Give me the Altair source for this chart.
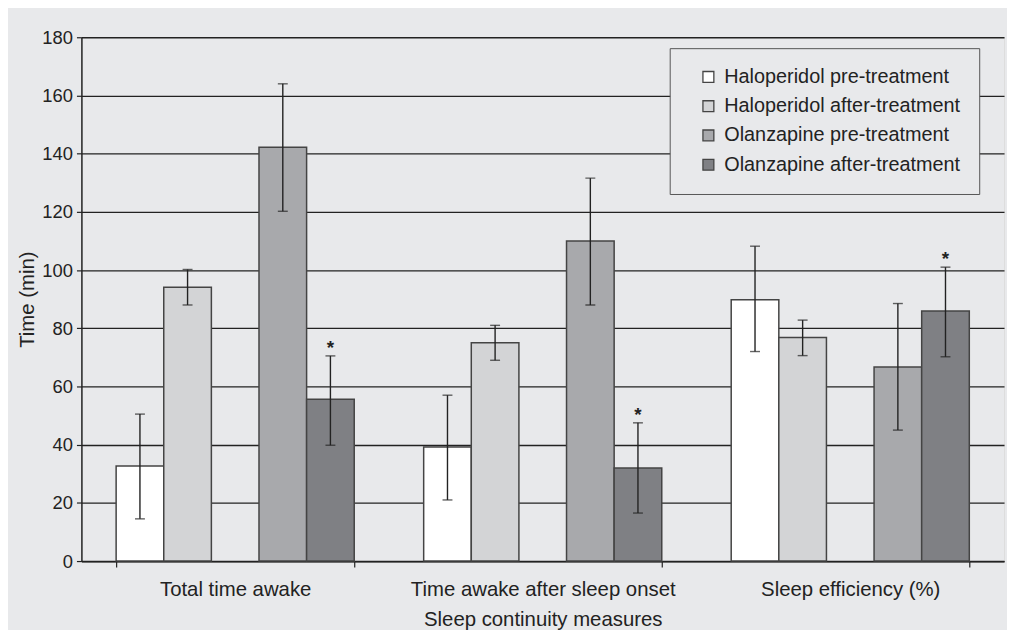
import altair as alt
import pandas as pd

measures = ["Total time awake", "Time awake after sleep onset", "Sleep efficiency (%)"]
groups = ["Haloperidol pre-treatment", "Haloperidol after-treatment",
          "Olanzapine pre-treatment", "Olanzapine after-treatment"]
colors = ["#ffffff", "#d3d4d6", "#a8a9ac", "#7f8084"]

hal_pre_mean = [32.7, 39.2, 89.8]
hal_pre_lo = [14.5, 21.0, 72.0]
hal_pre_hi = [50.5, 57.0, 108.2]

hal_post_mean = [94.1, 75.0, 76.8]
hal_post_lo = [88.0, 69.0, 70.6]
hal_post_hi = [100.2, 81.0, 82.8]

ola_pre_mean = [142.2, 110.0, 66.7]
ola_pre_lo = [120.2, 88.0, 45.0]
ola_pre_hi = [164.0, 131.6, 88.5]

ola_post_mean = [55.6, 32.0, 85.9]
ola_post_lo = [39.8, 16.5, 70.2]
ola_post_hi = [70.5, 47.5, 101.0]

ola_post_sig = ["*", "*", "*"]

rows = []
series = [
    (groups[0], hal_pre_mean, hal_pre_lo, hal_pre_hi, ["", "", ""]),
    (groups[1], hal_post_mean, hal_post_lo, hal_post_hi, ["", "", ""]),
    (groups[2], ola_pre_mean, ola_pre_lo, ola_pre_hi, ["", "", ""]),
    (groups[3], ola_post_mean, ola_post_lo, ola_post_hi, ola_post_sig),
]
for g, mean, lo, hi, sig in series:
    for i, m in enumerate(measures):
        rows.append({"measure": m, "group": g, "mean": mean[i],
                     "lo": lo[i], "hi": hi[i], "sig": sig[i]})
df = pd.DataFrame(rows)

offset_domain = [groups[0], groups[1], " ", groups[2], groups[3]]

FONT = "Liberation Sans"

x = alt.X("measure:N", sort=measures,
          scale=alt.Scale(paddingInner=0.2258, paddingOuter=0.1129),
          axis=alt.Axis(title="Sleep continuity measures", labelAngle=0,
                        tickBand="extent", tickSize=6, labelPadding=13,
                        titlePadding=9, labelFontSize=20.5, titleFontSize=20.5,
                        labelLimit=400,
                        labelColor="#222", titleColor="#222",
                        titleFontWeight="normal", domainColor="#222",
                        tickColor="#222", domainWidth=1.8, tickWidth=1.2))
xo = alt.XOffset("group:N", scale=alt.Scale(domain=offset_domain,
                                            paddingInner=0, paddingOuter=0))
yscale = alt.Scale(domain=[0, 180], nice=False)

bars = alt.Chart(df).mark_bar(stroke="#444444", strokeWidth=1.5).encode(
    x=x,
    xOffset=xo,
    y=alt.Y("mean:Q", scale=yscale,
            axis=alt.Axis(title="Time (min)", values=list(range(0, 181, 20)),
                          tickSize=5, labelPadding=4, titlePadding=4,
                          labelFontSize=18.5, titleFontSize=20.5,
                          labelColor="#222", titleColor="#222",
                          titleFontWeight="normal",
                          grid=True, gridColor="#222", gridWidth=1.3,
                          domainColor="#222", tickColor="#222",
                          domainWidth=1.5, tickWidth=1.2)),
    color=alt.Color("group:N", sort=groups,
                    scale=alt.Scale(domain=groups, range=colors),
                    legend=alt.Legend(title=None, orient="none",
                                      legendX=593, legendY=11,
                                      symbolType="square", symbolSize=121,
                                      symbolStrokeColor="#444",
                                      symbolStrokeWidth=1.3,
                                      symbolOffset=10,
                                      labelFontSize=20, labelColor="#222",
                                      labelOffset=6, labelLimit=400,
                                      rowPadding=9.5, padding=19,
                                      fillColor="#e8e9eb",
                                      strokeColor="#555555")),
)

err = alt.Chart(df).mark_rule(color="#222", strokeWidth=1.4).encode(
    x=x, xOffset=xo, y=alt.Y("lo:Q", scale=yscale), y2="hi:Q")

cap_hi = alt.Chart(df).mark_tick(color="#222", thickness=1.4, size=10).encode(
    x=x, xOffset=xo, y=alt.Y("hi:Q", scale=yscale))
cap_lo = alt.Chart(df).mark_tick(color="#222", thickness=1.4, size=10).encode(
    x=x, xOffset=xo, y=alt.Y("lo:Q", scale=yscale))

stars = alt.Chart(df).mark_text(fontSize=19, fontWeight="bold", color="#222",
                                baseline="alphabetic", dy=-2).encode(
    x=x, xOffset=xo, y=alt.Y("hi:Q", scale=yscale), text="sig:N")

chart = alt.layer(bars, err, cap_hi, cap_lo, stars).properties(
    width=930, height=528,
    background="#e8e9eb",
    padding={"left": 74, "top": 27, "right": 3, "bottom": 67},
    autosize=alt.AutoSizeParams(type="none"),
).configure_view(stroke=None).configure(font=FONT)

chart.save("out.html", embed_options={"renderer": "svg", "actions": False})
